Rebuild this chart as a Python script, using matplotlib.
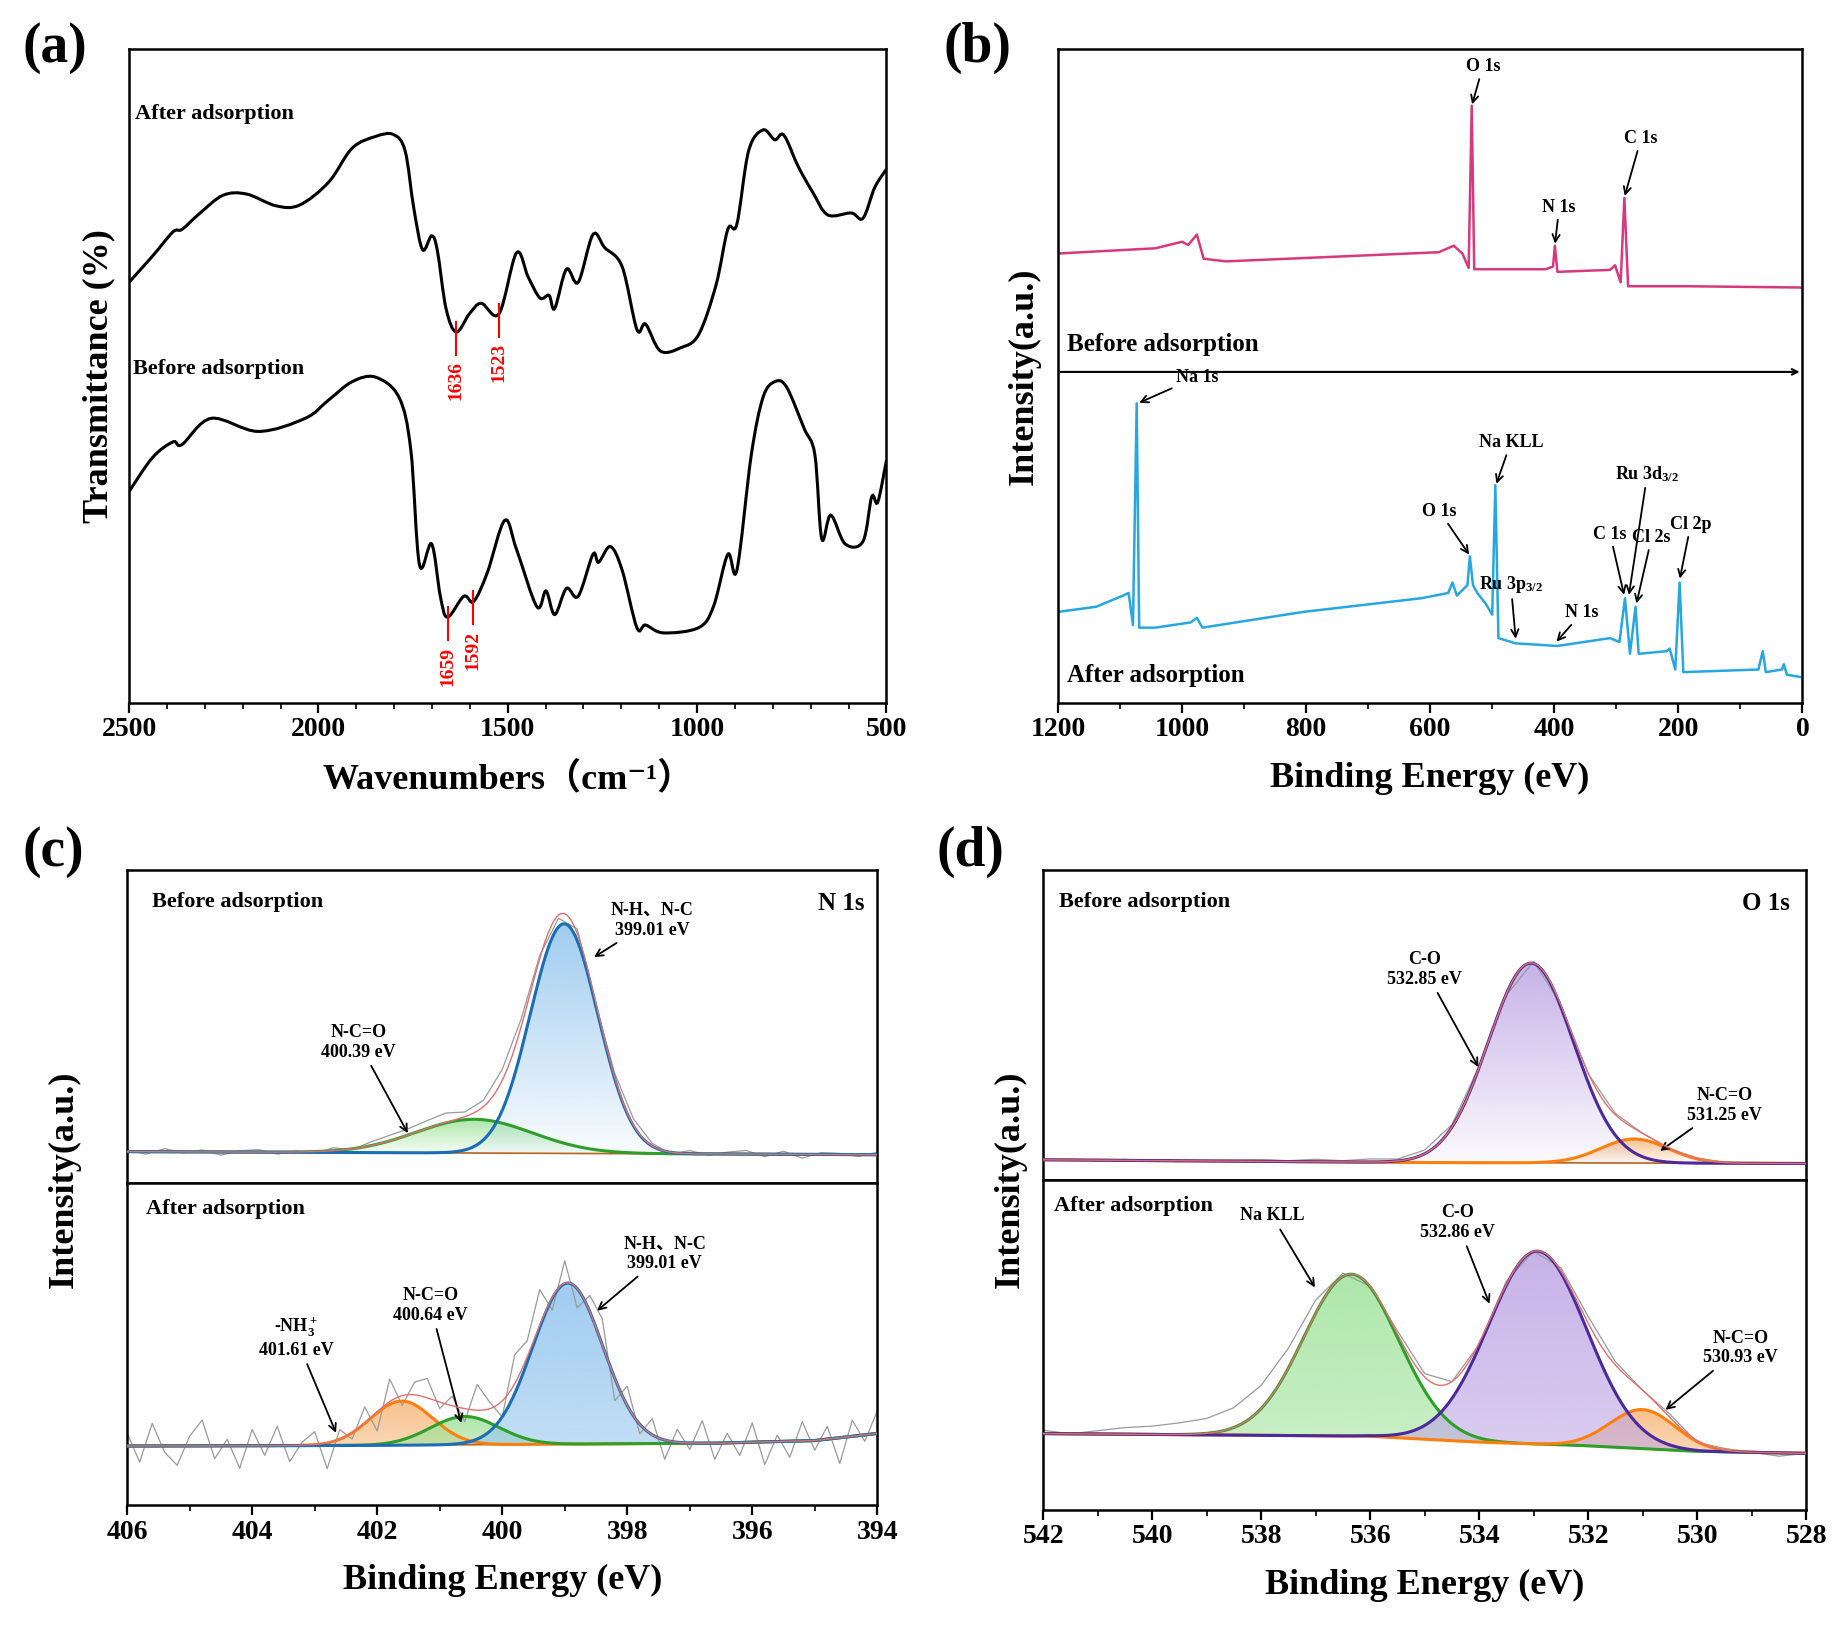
import numpy as np
import matplotlib
matplotlib.use("Agg")
import matplotlib.pyplot as plt
from matplotlib.ticker import MultipleLocator
from matplotlib.patches import Polygon, PathPatch
from matplotlib.path import Path

plt.rcParams['font.family'] = ['Liberation Serif', 'Noto Sans CJK SC', 'DejaVu Serif']
plt.rcParams['font.weight'] = 'bold'
plt.rcParams['axes.labelweight'] = 'bold'
plt.rcParams['axes.linewidth'] = 1.8
plt.rcParams['mathtext.fontset'] = 'custom'
plt.rcParams['mathtext.rm'] = 'Liberation Serif:bold'
plt.rcParams['mathtext.it'] = 'Liberation Serif:bold'
plt.rcParams['mathtext.bf'] = 'Liberation Serif:bold'
plt.rcParams['mathtext.default'] = 'rm'

# ---------------- (a) FTIR ----------------
wn_after = [2500, 2438, 2384, 2360, 2314, 2252, 2190, 2112, 2050, 1973, 1911, 1849, 1802, 1771, 1748,
            1725, 1701, 1686, 1663, 1636, 1601, 1570, 1523, 1477, 1446, 1415, 1391, 1376, 1345, 1314,
            1275, 1244, 1198, 1159, 1136, 1097, 1043, 996, 950, 919, 895, 864, 826, 795, 771, 733,
            694, 655, 593, 562, 531, 500]
tr_after = [64.3, 68.3, 72.0, 72.4, 74.8, 77.6, 77.8, 76.0, 76.1, 79.6, 84.8, 86.6, 86.9, 84.4, 75.6,
            69.3, 71.4, 69.2, 60.3, 56.7, 59.5, 61.1, 59.5, 68.8, 65.1, 61.9, 62.3, 60.3, 66.3, 64.3,
            71.6, 69.6, 66.7, 57.1, 57.9, 53.8, 54.3, 56.3, 63.9, 72.4, 73.2, 84.4, 87.6, 86.1, 86.8, 82.0,
            78.0, 74.6, 74.9, 74.1, 78.8, 81.6]
wn_before = [2500, 2438, 2384, 2360, 2283, 2159, 2035, 1973, 1911, 1849, 1787, 1756, 1733, 1701, 1678,
             1659, 1616, 1590, 1554, 1508, 1477, 1423, 1399, 1376, 1345, 1314, 1275, 1260, 1229, 1198,
             1159, 1136, 1089, 996, 957, 919, 895, 857, 826, 795, 764, 717, 689, 671, 647, 609, 562,
             539, 523, 500]
tr_before = [32.3, 37.5, 39.9, 39.5, 43.5, 41.5, 43.5, 46.3, 49.1, 49.8, 46.7, 38.7, 21.1, 24.3, 16.3,
             13.1, 16.3, 15.5, 19.9, 27.9, 23.5, 14.7, 17.1, 13.5, 17.5, 16.3, 22.7, 21.5, 23.9, 20.3,
             11.5, 11.9, 10.7, 11.5, 14.7, 22.7, 20.3, 37.9, 46.7, 49.1, 48.3, 41.9, 37.9, 25.1, 28.7, 24.3, 24.7,
             31.5, 30.7, 37.1]
marks_after = [1636, 1523]
marks_before = [1659, 1592]

# ---------------- (b) survey ----------------
be_s_before = [1200, 1043, 1000, 990, 976, 965, 929, 757, 586, 562, 548, 538, 533, 529, 414, 402, 399,
               395, 310, 302, 293, 287, 281, 186, 0]
in_s_before = [68.7, 69.5, 70.5, 70.0, 71.6, 67.9, 67.5, 68.2, 68.9, 69.9, 68.7, 66.5, 91.3, 66.3, 66.3,
               66.7, 69.9, 65.9, 66.2, 66.9, 64.3, 77.2, 63.7, 63.7, 63.5]
be_s_after = [1200, 1138, 1095, 1086, 1079, 1073, 1069, 1043, 986, 976, 967, 805, 614, 571, 564, 557, 540,
              536, 531, 524, 510, 500, 495, 490, 462, 395, 310, 295, 286, 278, 269, 264, 219, 214, 205,
              198, 192, 71, 64, 59, 33, 30, 25, 0]
in_s_after = [13.9, 14.7, 16.4, 16.8, 11.9, 45.8, 11.5, 11.5, 12.3, 13.0, 11.5, 13.9, 16.0, 16.8, 18.4,
              16.4, 18.0, 22.4, 18.0, 16.8, 15.1, 13.5, 33.3, 9.9, 9.1, 8.7, 9.9, 9.3, 16.0, 7.5, 14.7, 7.5,
              7.9, 8.3, 5.1, 18.4, 4.7, 5.1, 7.9, 4.7, 5.1, 5.9, 4.3, 3.9]
# label, text position, arrow tip, horizontal alignment
b_labels_before = [("O 1s", (515, 96), (533, 91.3), 'center'),
                   ("N 1s", (392, 74.5), (399, 70.0), 'center'),
                   ("C 1s", (260, 85), (287, 77.3), 'center')]
b_labels_after = [("Na 1s", (1010, 48.5), (1071, 45.8), 'left'),
                  ("Na KLL", (470, 38.5), (494, 33.3), 'center'),
                  ("O 1s", (585, 28), (536, 22.5), 'center'),
                  ("Ru 3p$_{3/2}$", (470, 16.5), (462, 9.6), 'center'),
                  ("N 1s", (355, 12.5), (398, 9.2), 'center'),
                  ("C 1s", (310, 24.5), (287, 16.3), 'center'),
                  ("Ru 3d$_{3/2}$", (250, 33.5), (280, 16.3), 'center'),
                  ("Cl 2s", (243, 24.0), (268, 15.0), 'center'),
                  ("Cl 2p", (180, 26.0), (198, 18.8), 'center')]

# ---------------- (c) N 1s ----------------
# components: (center eV, height, sigma); baselines listed from high to low eV
c_before_base_x = [406, 400, 394]
c_before_base_y = [0.100, 0.095, 0.090]
c_before_peaks = {"green": (400.45, 0.108, 0.93), "blue": (399.01, 0.735, 0.54)}
c_before_noise = [0.005, -0.008, 0.010, -0.004, 0.006, -0.010, 0.004, 0.008, -0.006, 0.003, -0.005, 0.009,
                  -0.003, 0.012, 0.018, 0.020, 0.025, 0.030, 0.015, 0.020, 0.035, 0.025, 0.010, -0.010,
                  0.015, -0.008, 0.012, 0.020, 0.008, -0.006, 0.010, -0.004, 0.006, 0.012, -0.008, 0.010,
                  -0.012, 0.006, 0.004, -0.006, 0.008]
c_after_base_x = [406, 402, 398, 396.5, 395, 394]
c_after_base_y = [0.183, 0.185, 0.190, 0.192, 0.200, 0.222]
c_after_peaks = {"orange": (401.61, 0.137, 0.50), "green": (400.60, 0.088, 0.55), "blue": (398.95, 0.50, 0.56)}
c_after_noise = [0.04, -0.05, 0.07, -0.02, -0.06, 0.03, 0.08, -0.04, 0.02, -0.07, 0.05, -0.03, 0.06, -0.05,
                 0.01, 0.04, -0.08, 0.03, -0.02, 0.05, -0.06, 0.07, -0.03, 0.04, 0.06, -0.02, 0.03, -0.04,
                 0.08, 0.02, -0.05, 0.09, 0.05, 0.11, -0.04, 0.07, -0.06, 0.05, 0.08, -0.07, 0.06, -0.03,
                 0.05, -0.06, 0.04, -0.02, 0.07, -0.05, 0.03, -0.04, 0.06, -0.07, 0.02, -0.05, 0.06, -0.03,
                 0.04, -0.08, 0.05, -0.02, 0.07]

# ---------------- (d) O 1s ----------------
d_before_base_x = [542, 535, 528]
d_before_base_y = [0.064, 0.055, 0.052]
d_before_peaks = {"purple": (533.05, 0.646, 0.78), "orange": (531.15, 0.078, 0.62)}
d_before_noise = [0.0, 0.002, -0.002, 0.003, 0.0, -0.003, 0.002, 0.004, 0.006, 0.003, 0.008, 0.004, 0.010,
                  0.006, 0.012, 0.008, 0.004, -0.004, 0.006, 0.002, -0.003, 0.004, 0.0, -0.002, 0.003,
                  0.001, -0.002, 0.002, 0.0]
d_after_base_x = [542, 536, 534, 532, 530, 528]
d_after_base_y = [0.231, 0.223, 0.205, 0.194, 0.177, 0.171]
d_after_peaks = {"green": (536.35, 0.49, 0.87), "purple": (532.93, 0.584, 0.90), "orange": (531.0, 0.118, 0.60)}
d_after_noise = [0.01, 0.0, 0.01, 0.02, 0.025, 0.035, 0.045, 0.06, 0.07, 0.06, 0.04, 0.01, 0.0, 0.01, 0.01,
                 0.0, -0.005, 0.01, 0.0, 0.01, 0.02, 0.01, 0.0, 0.01, -0.005, 0.005, 0.0, -0.01, 0.0]

LINE = {"blue": "#1b6db5", "green": "#2f9e2a", "orange": "#ff7f0e", "purple": "#4b2a9a"}
FILL = {"blue": "#8fc3ee", "green": "#9fe39a", "orange": "#f7b77a", "purple": "#bda4e4"}


def gauss(x, c, h, s):
    return h * np.exp(-0.5 * ((x - c) / s) ** 2)


def smooth_line(ax, xs, ys, **kw):
    # Catmull-Rom through the read points, drawn as cubic Bezier path
    p = np.column_stack([xs, ys]).astype(float)
    pp = np.vstack([p[0], p, p[-1]])
    verts = [p[0]]
    codes = [Path.MOVETO]
    for i in range(1, len(pp) - 2):
        p0, p1, p2, p3 = pp[i - 1], pp[i], pp[i + 1], pp[i + 2]
        verts += [p1 + (p2 - p0) / 6, p2 - (p3 - p1) / 6, p2]
        codes += [Path.CURVE4] * 3
    ax.add_patch(PathPatch(Path(verts, codes), facecolor='none', **kw))


def grad_fill(ax, x, top, base, color, ymin, ymax, strong):
    # vertical gradient from colour (top) to transparent (bottom), clipped to the area
    poly = Polygon(np.column_stack([np.r_[x, x[::-1]], np.r_[top, base[::-1]]]),
                   closed=True, facecolor='none', edgecolor='none')
    ax.add_patch(poly)
    rgba = np.zeros((256, 1, 4))
    rgba[:, 0, :3] = matplotlib.colors.to_rgb(color)
    lo = 0.55 if strong else 0.05
    rgba[:, 0, 3] = np.linspace(lo, 0.85, 256)
    im = ax.imshow(rgba, extent=[x.min(), x.max(), ymin, ymax], origin='lower',
                   aspect='auto', zorder=1)
    im.set_clip_path(poly)


def tick_style(ax, major, minor):
    ax.xaxis.set_major_locator(MultipleLocator(major))
    ax.xaxis.set_minor_locator(MultipleLocator(minor))
    ax.tick_params(axis='x', which='major', direction='out', length=7, width=1.6, labelsize=20)
    ax.tick_params(axis='x', which='minor', direction='out', length=4, width=1.2)
    ax.set_yticks([])


def xps_panel(ax, xlo, xhi, bx, by, peaks, noise, strong, order):
    x = np.linspace(xlo, xhi, 600)  # increasing
    base = np.interp(x, bx[::-1], by[::-1])
    env = base.copy()
    for key in order:
        c, h, s = peaks[key]
        g = gauss(x, c, h, s)
        env += g
        grad_fill(ax, x, base + g, base, FILL[key], base.min(), (base + g).max(), strong)
        ax.plot(x, base + g, color=LINE[key], lw=2.2, zorder=3)
    xr = np.linspace(xhi, xlo, len(noise))
    br = np.interp(xr, x, env) + np.array(noise)
    ax.plot(xr, br, color='#9a9a9a', lw=0.9, zorder=2)
    ax.plot(x, env, color='#e07070', lw=1.0, zorder=4)
    ax.plot(x, base, color='#b5651d', lw=1.2, zorder=2)
    ax.set_xlim(xhi, xlo)
    ax.set_ylim(0, 1)


def arrow_note(ax, text, tip, pos, ha='center'):
    ax.annotate(text, xy=tip, xytext=pos, fontsize=13, ha=ha, va='center',
                arrowprops=dict(arrowstyle='->', lw=1.3, color='k', shrinkA=2, shrinkB=1))


fig = plt.figure(figsize=(18.43, 16.27), dpi=100)

# ---- (a)
ax = fig.add_axes([0.070, 0.568, 0.411, 0.402])
smooth_line(ax, wn_after, tr_after, edgecolor='k', lw=2.2)
smooth_line(ax, wn_before, tr_before, edgecolor='k', lw=2.2)
for wl, tl, marks in ((wn_after, tr_after, marks_after), (wn_before, tr_before, marks_before)):
    for w in marks:
        yv = np.interp(w, wl[::-1], tl[::-1])
        ax.plot([w, w], [yv - 3.5, yv + 1.5], color='red', lw=1.5)
        ax.text(w, yv - 4.5, str(w), color='red', rotation=90, ha='center', va='top', fontsize=14)
ax.text(2485, 90, "After adsorption", fontsize=16, va='center')
ax.text(2490, 51, "Before adsorption", fontsize=16, va='center')
ax.set_xlim(2500, 500)
ax.set_ylim(0, 100)
tick_style(ax, 500, 100)
ax.set_xlabel("Wavenumbers（cm⁻¹）", fontsize=26, labelpad=14)
ax.set_ylabel("Transmittance (%)", fontsize=26, labelpad=10)
fig.text(0.012, 0.962, "(a)", fontsize=40, fontweight='bold')

# ---- (b)
ax = fig.add_axes([0.574, 0.568, 0.404, 0.402])
ax.plot(be_s_before, in_s_before, color='#d6397d', lw=1.8)
ax.plot(be_s_after, in_s_after, color='#27a7e0', lw=1.8)
ax.annotate("", xy=(0, 50.6), xytext=(1200, 50.6),
            arrowprops=dict(arrowstyle='->', color='k', lw=1.5))
for lab, t, p, ha in b_labels_before + b_labels_after:
    ax.annotate(lab, xy=p, xytext=t, fontsize=13, ha=ha, va='bottom',
                arrowprops=dict(arrowstyle='->', color='k', lw=1.3, shrinkA=1, shrinkB=1))
ax.text(1185, 53, "Before adsorption", fontsize=18, va='bottom')
ax.text(1185, 2.5, "After adsorption", fontsize=18, va='bottom')
ax.set_xlim(1200, 0)
ax.set_ylim(0, 100)
tick_style(ax, 200, 100)
ax.set_xlabel("Binding Energy (eV)", fontsize=26, labelpad=14)
ax.set_ylabel("Intensity(a.u.)", fontsize=26, labelpad=12)
fig.text(0.512, 0.962, "(b)", fontsize=40, fontweight='bold')

# ---- (c)
ax_u = fig.add_axes([0.069, 0.273, 0.407, 0.192])
ax_l = fig.add_axes([0.069, 0.075, 0.407, 0.198], sharex=ax_u)
xps_panel(ax_u, 394, 406, c_before_base_x, c_before_base_y, c_before_peaks, c_before_noise, False,
          ["green", "blue"])
xps_panel(ax_l, 394, 406, c_after_base_x, c_after_base_y, c_after_peaks, c_after_noise, True,
          ["orange", "green", "blue"])
ax_u.text(405.6, 0.93, "Before adsorption", fontsize=16, va='top')
ax_u.text(394.2, 0.93, "N 1s", fontsize=18, va='top', ha='right')
ax_l.text(405.7, 0.95, "After adsorption", fontsize=16, va='top')
arrow_note(ax_u, "N-H、N-C\n399.01 eV", (398.55, 0.72), (397.6, 0.84))
arrow_note(ax_u, "N-C=O\n400.39 eV", (401.5, 0.155), (402.3, 0.45))
arrow_note(ax_l, "N-H、N-C\n399.01 eV", (398.5, 0.60), (397.4, 0.78))
arrow_note(ax_l, "N-C=O\n400.64 eV", (400.65, 0.25), (401.15, 0.62))
arrow_note(ax_l, "-NH$_3^+$\n401.61 eV", (402.65, 0.22), (403.3, 0.52))
tick_style(ax_u, 2, 1)
tick_style(ax_l, 2, 1)
ax_u.tick_params(axis='x', which='both', bottom=False, labelbottom=False)
ax_l.set_xlabel("Binding Energy (eV)", fontsize=26, labelpad=14)
fig.text(0.035, 0.275, "Intensity(a.u.)", fontsize=26, fontweight='bold', rotation=90,
         ha='center', va='center')
fig.text(0.012, 0.468, "(c)", fontsize=40, fontweight='bold')

# ---- (d)
ax_u = fig.add_axes([0.566, 0.275, 0.414, 0.190])
ax_l = fig.add_axes([0.566, 0.072, 0.414, 0.203], sharex=ax_u)
xps_panel(ax_u, 528, 542, d_before_base_x, d_before_base_y, d_before_peaks, d_before_noise, False,
          ["orange", "purple"])
xps_panel(ax_l, 528, 542, d_after_base_x, d_after_base_y, d_after_peaks, d_after_noise, True,
          ["green", "orange", "purple"])
ax_u.text(541.7, 0.93, "Before adsorption", fontsize=16, va='top')
ax_u.text(528.3, 0.93, "O 1s", fontsize=18, va='top', ha='right')
ax_l.text(541.8, 0.95, "After adsorption", fontsize=16, va='top')
arrow_note(ax_u, "C-O\n532.85 eV", (534.0, 0.36), (535.0, 0.68))
arrow_note(ax_u, "N-C=O\n531.25 eV", (530.7, 0.09), (529.5, 0.24))
arrow_note(ax_l, "Na KLL", (537.0, 0.67), (537.8, 0.89))
arrow_note(ax_l, "C-O\n532.86 eV", (533.8, 0.62), (534.4, 0.87))
arrow_note(ax_l, "N-C=O\n530.93 eV", (530.6, 0.30), (529.2, 0.49))
tick_style(ax_u, 2, 1)
tick_style(ax_l, 2, 1)
ax_u.tick_params(axis='x', which='both', bottom=False, labelbottom=False)
ax_l.set_xlabel("Binding Energy (eV)", fontsize=26, labelpad=14)
fig.text(0.548, 0.275, "Intensity(a.u.)", fontsize=26, fontweight='bold', rotation=90,
         ha='center', va='center')
fig.text(0.508, 0.468, "(d)", fontsize=40, fontweight='bold')

fig.savefig("out.png", dpi=100)
